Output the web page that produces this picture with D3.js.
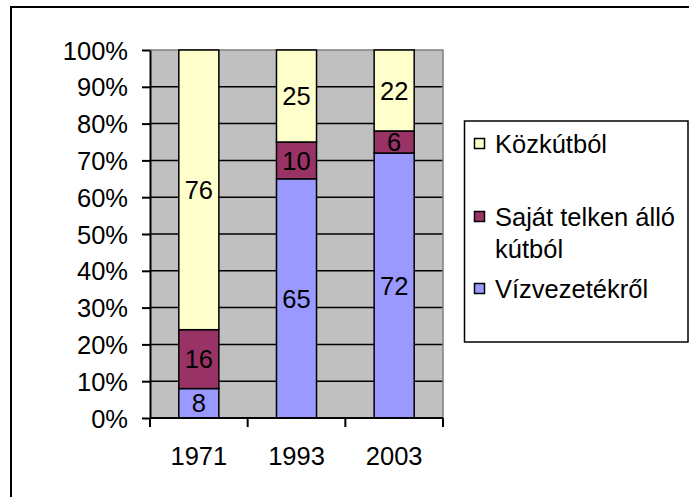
<!DOCTYPE html>
<html>
<head>
<meta charset="utf-8">
<script src="https://cdn.jsdelivr.net/npm/d3@7"></script>
<style>
  html, body { margin: 0; padding: 0; background: #ffffff; }
  svg { display: block; }
  text { font-family: "Liberation Sans", Arial, sans-serif; fill: #000; }
</style>
</head>
<body>
<svg id="chart" width="689" height="497"></svg>
<script>
// ---- data ----
const categories = ["1971", "1993", "2003"];
const seriesNames = ["Vízvezetékről", "Saját telken álló kútból", "Közkútból"];
const vizvezetek = [8, 65, 72];
const sajatKut = [16, 10, 6];
const kozkut = [76, 25, 22];
const yTicks = [0, 10, 20, 30, 40, 50, 60, 70, 80, 90, 100];
const yTickLabels = ["0%", "10%", "20%", "30%", "40%", "50%", "60%", "70%", "80%", "90%", "100%"];
const colors = ["#9999FF", "#993366", "#FFFFCC"];

// ---- layout ----
const W = 689, H = 497;
const plot = { left: 150, right: 443, top: 50, bottom: 418 };
const FS = 25.5;

const svg = d3.select("#chart");

// outer chart frame (extends beyond the viewport on right/bottom)
svg.append("rect").attr("x", 11).attr("y", 7).attr("width", 720).attr("height", 520)
  .attr("fill", "#fff").attr("stroke", "#000").attr("stroke-width", 2);

const x = d3.scaleBand().domain(categories).range([plot.left, plot.right]).padding(0);
const y = d3.scaleLinear().domain([0, 100]).range([plot.bottom, plot.top]);
const barW = x.bandwidth() * 0.41;

// plot background
svg.append("rect").attr("x", plot.left).attr("y", plot.top)
  .attr("width", plot.right - plot.left).attr("height", plot.bottom - plot.top)
  .attr("fill", "#C0C0C0");

// gridlines
svg.append("g").selectAll("line").data(yTicks.filter(t => t > 0 && t < 100)).join("line")
  .attr("x1", plot.left).attr("x2", plot.right)
  .attr("y1", d => y(d)).attr("y2", d => y(d))
  .attr("stroke", "#000").attr("stroke-width", 1.5);

// plot border (gray)
svg.append("path")
  .attr("d", `M${plot.left},${plot.top}H${plot.right}V${plot.bottom}`)
  .attr("fill", "none").attr("stroke", "#808080").attr("stroke-width", 1.5);

// stacked data
const seriesArrays = [vizvezetek, sajatKut, kozkut];
const stackData = categories.map((c, i) => {
  const o = { cat: c };
  seriesNames.forEach((s, k) => o[s] = seriesArrays[k][i]);
  return o;
});
const stacked = d3.stack().keys(seriesNames)(stackData);

const barsG = svg.append("g");
stacked.forEach((layer, k) => {
  const g = barsG.append("g");
  g.selectAll("rect").data(layer).join("rect")
    .attr("x", d => x(d.data.cat) + (x.bandwidth() - barW) / 2)
    .attr("y", d => y(d[1]))
    .attr("width", barW)
    .attr("height", d => y(d[0]) - y(d[1]))
    .attr("fill", colors[k])
    .attr("stroke", "#000").attr("stroke-width", 1.5);
});
stacked.forEach((layer, k) => {
  svg.append("g").selectAll("text").data(layer).join("text")
    .attr("x", d => x(d.data.cat) + x.bandwidth() / 2)
    .attr("y", d => (y(d[0]) + y(d[1])) / 2)
    .attr("dy", "0.36em")
    .attr("text-anchor", "middle")
    .attr("font-size", FS)
    .text(d => d[1] - d[0]);
});

// y axis
const yAxis = d3.axisLeft(y).tickValues(yTicks).tickFormat((d, i) => yTickLabels[i])
  .tickSize(8).tickSizeOuter(0).tickPadding(14);
const yg = svg.append("g").attr("transform", `translate(${plot.left},0)`).call(yAxis);
yg.select(".domain").attr("stroke", "#000").attr("stroke-width", 2);
yg.selectAll(".tick line").attr("stroke", "#000").attr("stroke-width", 2);
yg.selectAll(".tick text").attr("font-size", FS)
  .attr("font-family", '"Liberation Sans", Arial, sans-serif').attr("fill", "#000")
  .attr("dy", "0.36em");

// x axis
const xg = svg.append("g").attr("transform", `translate(0,${plot.bottom})`);
xg.append("line").attr("x1", plot.left).attr("x2", plot.right).attr("y1", 0).attr("y2", 0)
  .attr("stroke", "#000").attr("stroke-width", 2);
const boundaries = categories.map(c => x(c)).concat([x(categories[categories.length - 1]) + x.bandwidth()]);
xg.selectAll("line.tk").data(boundaries).join("line").attr("class", "tk")
  .attr("x1", d => d).attr("x2", d => d).attr("y1", 0).attr("y2", 9)
  .attr("stroke", "#000").attr("stroke-width", 2);
xg.selectAll("text").data(categories).join("text")
  .attr("x", d => x(d) + x.bandwidth() / 2)
  .attr("y", 47)
  .attr("text-anchor", "middle")
  .attr("font-size", FS)
  .text(d => d);

// legend
const legend = svg.append("g");
legend.append("rect").attr("x", 464.5).attr("y", 121).attr("width", 223.5).attr("height", 221)
  .attr("fill", "#fff").attr("stroke", "#000").attr("stroke-width", 1.5);
const legendItems = [
  { name: seriesNames[2], color: colors[2], lines: ["Közkútból"], base: 153 },
  { name: seriesNames[1], color: colors[1], lines: ["Saját telken álló", "kútból"], base: 226 },
  { name: seriesNames[0], color: colors[0], lines: ["Vízvezetékről"], base: 298 }
];
legendItems.forEach(it => {
  legend.append("rect").attr("x", 474.5).attr("y", it.base - 14.5).attr("width", 10).attr("height", 10)
    .attr("fill", it.color).attr("stroke", "#000").attr("stroke-width", 1.5);
  const t = legend.append("text").attr("x", 495).attr("y", it.base).attr("font-size", FS);
  it.lines.forEach((ln, i) => {
    t.append("tspan").attr("x", 495).attr("y", it.base + i * 32).text(ln);
  });
});
</script>
</body>
</html>
